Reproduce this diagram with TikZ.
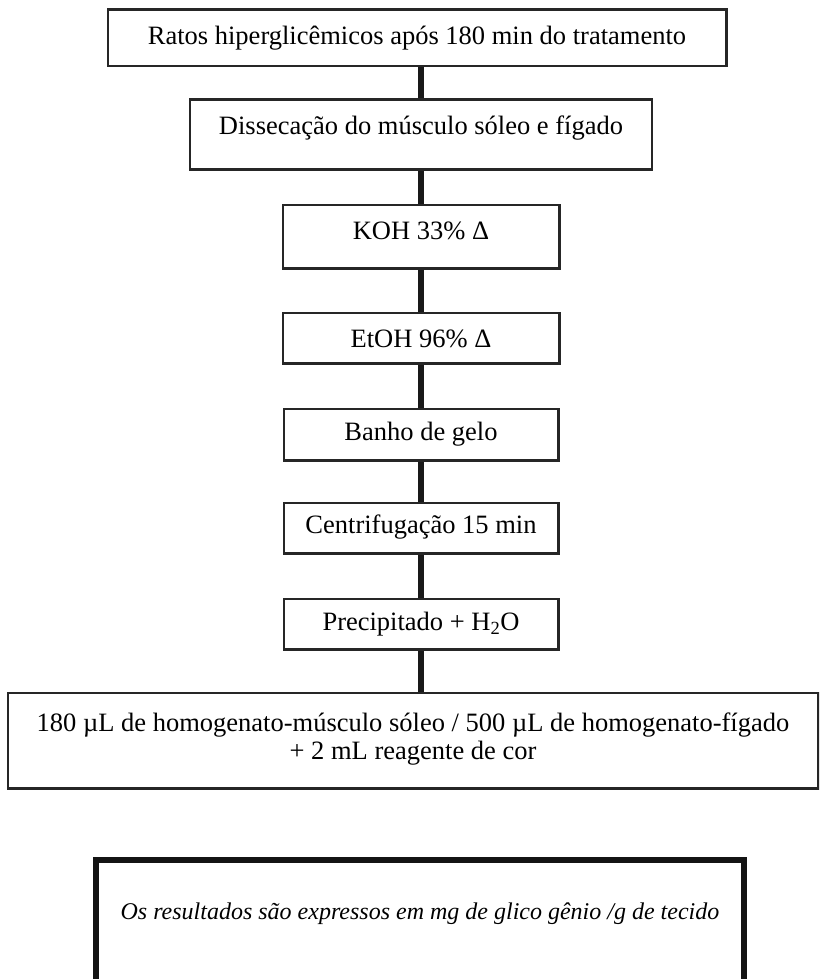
\documentclass[tikz,border=0pt]{standalone}
\usepackage{fontspec}
\setmainfont{Liberation Serif}
\begin{document}
\begin{tikzpicture}[x=1pt,y=-1pt,
  box/.style={draw=black!85, line width=1.5pt, fill=white, inner sep=0pt},
  txt/.style={inner sep=0pt, font=\fontsize{26.5}{31}\selectfont, align=center},
  conn/.style={line width=6.5pt, black!90}]
\useasboundingbox (0,0) rectangle (819,979);
\clip (0,0) rectangle (819,979);
% boxes
\node[box, minimum width=618pt, minimum height=56pt] (b1) at (417,38) {};
\node[box, minimum width=461pt, minimum height=69pt] (b2) at (421,134.5) {};
\node[box, minimum width=276pt, minimum height=63pt] (b3) at (421,236.5) {};
\node[box, minimum width=276pt, minimum height=50pt] (b4) at (421,338) {};
\node[box, minimum width=274pt, minimum height=51pt] (b5) at (421,434.5) {};
\node[box, minimum width=274pt, minimum height=50pt] (b6) at (421,528) {};
\node[box, minimum width=274pt, minimum height=50pt] (b7) at (421,624) {};
\node[box, minimum width=810pt, minimum height=95pt] (b8) at (413,740.5) {};
\node[box, line width=5.5pt, draw=black!92, minimum width=648pt, minimum height=160pt] (b9) at (420,940) {};
% connectors
\draw[conn] (b1.south -| b2.north) -- (b2.north);
\draw[conn] (b2.south) -- (b3.north);
\draw[conn] (b3.south) -- (b4.north);
\draw[conn] (b4.south) -- (b5.north);
\draw[conn] (b5.south) -- (b6.north);
\draw[conn] (b6.south) -- (b7.north);
\draw[conn] (b7.south) -- (b7.south |- b8.north);
% redraw box borders over connector ends
\foreach \n in {b1,b2,b3,b4,b5,b6,b7,b8}{\draw[draw=black!85, line width=1.5pt] (\n.north west) rectangle (\n.south east);}
% texts
\node[txt] (t1) at (417,38) {Ratos hiperglicêmicos após 180 min do tratamento};
\node[txt] (t2) at (421,128) {Dissecação do músculo sóleo e fígado};
\node[txt] (t3) at (421,231) {KOH 33\% Δ};
\node[txt] (t4) at (421,339) {EtOH 96\% Δ};
\node[txt] (t5) at (421,434) {Banho de gelo};
\node[txt] (t6) at (421,527) {Centrifugação 15 min};
\node[txt] (t7) at (421,624) {Precipitado + H\textsubscript{2}O};
\node[txt] (t8a) at (413,725) {180 µL de homogenato-músculo sóleo / 500 µL de homogenato-fígado};
\node[txt] (t8b) at (413,753) {+ 2 mL reagente de cor};
\node[txt, font=\fontsize{24}{29}\selectfont\itshape] (t9) at (420,914) {Os resultados são expressos em mg de glico gênio /g de tecido};
\end{tikzpicture}
\end{document}
